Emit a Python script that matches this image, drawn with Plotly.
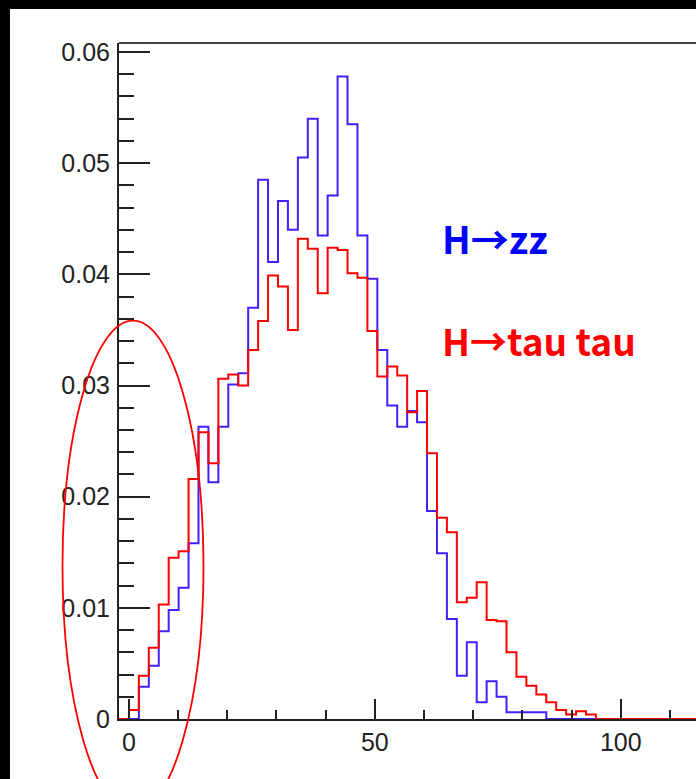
import plotly.graph_objects as go

# Histogram binning: equal-width bins starting at -2
bin_start = -2.0
bin_width = 2.02
n_bins = 60

# Normalised bin contents, H -> tau tau (red)
h_tautau = [0, 0.0008, 0.0039, 0.0064, 0.0103, 0.0145, 0.0151, 0.0216, 0.0258, 0.0230,
            0.0306, 0.0310, 0.0300, 0.0332, 0.0358, 0.0399, 0.0389, 0.0350, 0.0432, 0.0423,
            0.0383, 0.0424, 0.0422, 0.0401, 0.0397, 0.0349, 0.0308, 0.0317, 0.0309, 0.0276,
            0.0295, 0.0239, 0.0181, 0.0168, 0.0105, 0.0109, 0.0123, 0.0089, 0.0088, 0.0060,
            0.0038, 0.0030, 0.0022, 0.0015, 0.0008, 0.0004, 0.0007, 0.0004]

# Normalised bin contents, H -> zz (blue)
h_zz = [0, 0, 0.0029, 0.0048, 0.0079, 0.0098, 0.0118, 0.0158, 0.0263, 0.0213,
        0.0263, 0.0301, 0.0311, 0.0370, 0.0485, 0.0411, 0.0466, 0.0440, 0.0505, 0.0540,
        0.0435, 0.0471, 0.0578, 0.0535, 0.0435, 0.0396, 0.0332, 0.0282, 0.0263, 0.0277,
        0.0267, 0.0187, 0.0149, 0.0090, 0.0039, 0.0069, 0.0015, 0.0034, 0.0020, 0.0006,
        0.0006, 0.0006, 0.0006]

label_zz = "H→zz"
label_tautau = "H→tau tau"

edges = [bin_start + bin_width * i for i in range(n_bins + 1)]


def step_xy(contents):
    vals = list(contents) + [0.0] * (n_bins - len(contents))
    return edges, vals + [vals[-1]]


W, H = 696, 779
L, R, T, B = 119, 0, 43, 60

fig = go.Figure()

xz, yz = step_xy(h_zz)
fig.add_trace(go.Scatter(x=xz, y=yz, mode="lines", line=dict(shape="hv", color="#4020ff", width=2),
                         showlegend=False, hoverinfo="skip"))
xt, yt = step_xy(h_tautau)
fig.add_trace(go.Scatter(x=xt, y=yt, mode="lines", line=dict(shape="hv", color="#ff0000", width=2),
                         showlegend=False, hoverinfo="skip"))

axis_col = "#222222"
tick_font = dict(family="Liberation Sans, Arial, sans-serif", size=25, color="#222222")

fig.update_xaxes(range=[-2.0, 115.3], showgrid=False, zeroline=False,
                 showline=True, linecolor=axis_col, linewidth=2,
                 ticks="inside", tick0=0, dtick=50, ticklen=20, tickwidth=2, tickcolor=axis_col,
                 minor=dict(ticks="inside", tick0=0, dtick=10, ticklen=9, tickwidth=2, tickcolor=axis_col),
                 tickfont=tick_font, ticklabelstandoff=0)
fig.update_yaxes(range=[0, 0.06081], showgrid=False, zeroline=False,
                 showline=True, linecolor=axis_col, linewidth=2,
                 ticks="inside", tick0=0, dtick=0.01, ticklen=31, tickwidth=2, tickcolor=axis_col,
                 minor=dict(ticks="inside", tick0=0, dtick=0.002, ticklen=15, tickwidth=2, tickcolor=axis_col),
                 tickfont=tick_font, ticklabelstandoff=2)

pw = W - L - R
ph = H - T - B


def px_x(p):
    return (p - L) / pw


def px_y(p):
    return (H - B - p) / ph


shapes = [
    # frame top edge
    dict(type="line", xref="paper", yref="paper", x0=0, x1=1, y0=1, y1=1,
         line=dict(color="#444444", width=2)),
    # dark border strips
    dict(type="rect", xref="paper", yref="paper", x0=px_x(-5), x1=px_x(W + 5), y0=px_y(9), y1=px_y(-5),
         fillcolor="black", line=dict(width=0), layer="above"),
    dict(type="rect", xref="paper", yref="paper", x0=px_x(-5), x1=px_x(10), y0=px_y(H + 5), y1=px_y(-5),
         fillcolor="black", line=dict(width=0), layer="above"),
    # highlight ellipse around the low-mass region
    dict(type="circle", xref="paper", yref="paper", x0=px_x(62.5), x1=px_x(203.5),
         y0=px_y(812), y1=px_y(320.7), line=dict(color="#ff0000", width=1.8), layer="above"),
]

label_font = "Noto Sans CJK JP, sans-serif"
annotations = [
    dict(text=f"<b>{label_zz}</b>", xref="paper", yref="paper", x=px_x(440), y=px_y(237),
         xanchor="left", yanchor="middle", showarrow=False,
         font=dict(family=label_font, size=38, color="#0000ff")),
    dict(text=f"<b>{label_tautau}</b>", xref="paper", yref="paper", x=px_x(440), y=px_y(340),
         xanchor="left", yanchor="middle", showarrow=False,
         font=dict(family=label_font, size=37, color="#ff0000")),
]

fig.update_layout(width=W, height=H, margin=dict(l=L, r=R, t=T, b=B, pad=0),
                  paper_bgcolor="white", plot_bgcolor="white",
                  shapes=shapes, annotations=annotations, showlegend=False)

fig.write_html("out.html")
